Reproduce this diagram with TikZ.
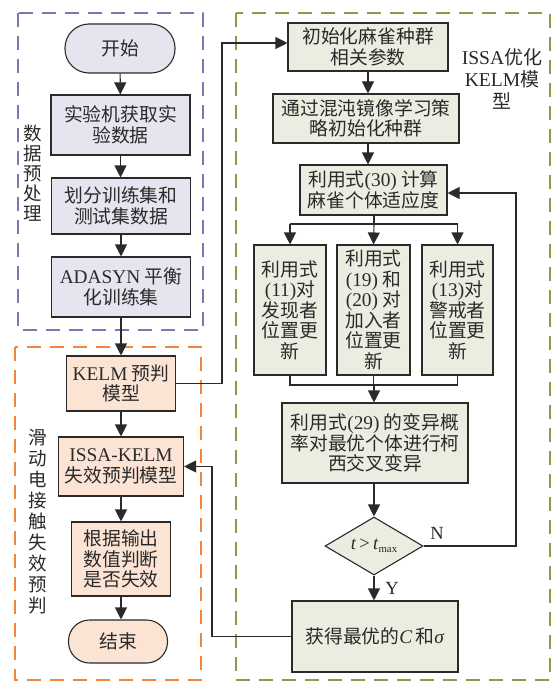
\documentclass[tikz,border=0pt]{standalone}
\usepackage{fontspec}
\setmainfont{Liberation Serif}[Scale=1.03]
\newfontfamily\cjk{Noto Sans CJK SC}
\usetikzlibrary{arrows.meta,shapes.geometric}
\newcommand\lat[1]{{\rmfamily #1}}
\definecolor{lav}{HTML}{E6E4EF}
\definecolor{pch}{HTML}{FCE4D5}
\definecolor{grn}{HTML}{E9EEE0}
\definecolor{purp}{HTML}{8572B0}
\definecolor{orng}{HTML}{F0873A}
\definecolor{gfr}{HTML}{86A04A}
\definecolor{ink}{HTML}{2A2A2A}
\tikzset{
 base/.style={draw=ink, line width=1.1pt, align=center, inner sep=0pt, text=ink, font=\cjk\fontsize{18.8}{20.5}\selectfont},
 pbox/.style={base, fill=lav},
 obox/.style={base, fill=pch},
 gbox/.style={base, fill=grn},
 arr/.style={draw=ink, line width=1.1pt, -{Triangle[length=12pt,width=12pt]}},
 ln/.style={draw=ink, line width=1.1pt},
 frame/.style={line width=1.2pt, dash pattern=on 14pt off 9pt},
 lab/.style={align=center, inner sep=0pt, text=ink},
}
\begin{document}
\begin{tikzpicture}[x=1pt,y=-1pt]
\useasboundingbox[fill=white] (0,0) rectangle (552,682);
% frames
\draw[frame, draw=purp] (18,13) rectangle (203,330);
\draw[frame, draw=orng] (15,347) rectangle (201,680);
\draw[frame, draw=gfr] (236,13) rectangle (550,680);
% left column
\node[pbox, minimum width=110pt, minimum height=49pt, rounded corners=24pt] (start) at (120,48.5) {开始};
\node[pbox, minimum width=139pt, minimum height=60pt] (b1) at (120.5,125) {实验机获取实\\验数据};
\node[pbox, minimum width=139pt, minimum height=56pt] (b2) at (121,206) {划分训练集和\\测试集数据};
\node[pbox, minimum width=139pt, minimum height=60pt] (b3) at (121,287) {\lat{ADASYN} 平衡\\化训练集};
\node[lab, font=\cjk\fontsize{18.5}{20}\selectfont] (l1) at (33,173) {数\\据\\预\\处\\理};
\node[obox, minimum width=109pt, minimum height=55pt] (kelm) at (121,383.5) {\lat{KELM} 预判\\模型};
\node[obox, minimum width=125pt, minimum height=59pt] (issa) at (121,466.5) {\lat{ISSA-KELM}\\失效预判模型};
\node[obox, minimum width=99pt, minimum height=74pt] (judge) at (121,559) {根据输出\\数值判断\\是否失效};
\node[obox, minimum width=99pt, minimum height=43pt, rounded corners=21pt] (end) at (118,641.5) {结束};
\node[lab, font=\cjk\fontsize{18.5}{21}\selectfont] (l2) at (38,522) {滑\\动\\电\\接\\触\\失\\效\\预\\判};
\draw[arr] (start) -- (b1);
\draw[arr] (b1) -- (b1 |- b2.north);
\draw[arr] (b2) -- (b3);
\draw[arr] (b3) -- (b3 |- kelm.north);
\draw[arr] (kelm) -- (kelm |- issa.north);
\draw[arr] (issa) -- (issa |- judge.north);
\draw[arr] (judge.south) -- (judge.south |- end.north);
% right column
\node[gbox, minimum width=160pt, minimum height=48pt] (init) at (368,47) {初始化麻雀种群\\相关参数};
\node[lab, font=\fontsize{19}{22}\selectfont] (l3) at (502,79) {ISSA{\cjk 优化}\\KELM{\cjk 模}\\{\cjk 型}};
\node[gbox, minimum width=186pt, minimum height=49pt] (chaos) at (366,118.5) {通过混沌镜像学习策\\略初始化种群};
\node[gbox, minimum width=147pt, minimum height=50pt] (fit) at (373.5,190) {利用式\lat{(30)} 计算\\麻雀个体适应度};
\node[gbox, minimum width=72pt, minimum height=130pt] (p1) at (290,310) {利用式\\\lat{(11)}对\\发现者\\位置更\\新};
\node[gbox, minimum width=73pt, minimum height=130pt] (p2) at (373.5,310) {利用式\\\lat{(19)} 和\\\lat{(20)} 对\\加入者\\位置更\\新};
\node[gbox, minimum width=71pt, minimum height=130pt] (p3) at (457.5,310) {利用式\\\lat{(13)}对\\警戒者\\位置更\\新};
\node[gbox, minimum width=186pt, minimum height=80pt] (mut) at (375,443) {利用式\lat{(29)} 的变异概\\率对最优个体进行柯\\西交叉变异};
\node[gbox, diamond, aspect=1.69, minimum width=98pt, minimum height=58pt, inner sep=0pt] (dia) at (374,546) {};
\node[lab, font=\fontsize{18}{20}\selectfont] (diat) at (374,546) {\textit{t}\,>\,\textit{t}\raisebox{-3pt}{\fontsize{10.5}{10.5}\selectfont max}};
\node[gbox, minimum width=166pt, minimum height=71pt] (opt) at (375,636.5) {获得最优的\lat{\textit{C\,}}和\lat{\textit{σ}}};
\node[lab, font=\fontsize{18}{20}\selectfont] (nl) at (437,533) {N};
\node[lab, font=\fontsize{18}{20}\selectfont] (yl) at (392,588) {Y};
\draw[arr] (init.south) -- (init.south |- chaos.north);
\draw[arr] (init.south |- chaos.south) -- (init.south |- fit.north);
\coordinate (sp) at (374,224);
\coordinate (mg) at (374,385);
\draw[ln] (fit.south -| sp) -- (sp);
\draw[ln] (p1.north |- sp) -- (p3.north |- sp);
\draw[arr] (p1.north |- sp) -- (p1.north);
\draw[arr] (sp) -- (p2.north);
\draw[arr] (p3.north |- sp) -- (p3.north);
\draw[ln] (p1.south) -- (p1.south |- mg) -- (p3.south |- mg) -- (p3.south);
\draw[ln] (p2.south) -- (p2.south |- mg);
\draw[arr] (mg) -- (mg |- mut.north);
\draw[arr] (mut.south -| dia) -- (dia.north);
\draw[arr] (dia.south) -- (dia.south |- opt.north);
\coordinate (nfb) at (516,193);
\draw[arr] (dia.east) -| (nfb) -- (fit.east |- nfb);
% cross connectors
\coordinate (k1) at (222,43);
\draw[arr] (kelm.east) -| (k1) -- (init.west |- k1);
\coordinate (o1) at (212,466.5);
\draw[arr] (opt.west) -| (o1) -- (issa.east);
\end{tikzpicture}
\end{document}
